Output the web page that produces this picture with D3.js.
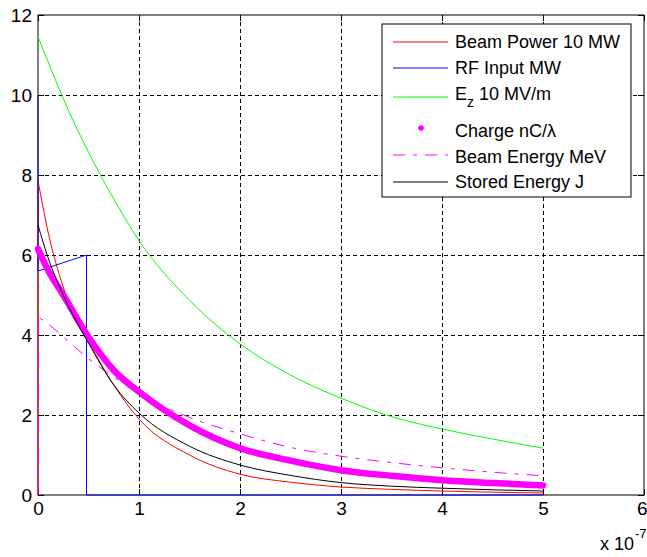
<!DOCTYPE html>
<html>
<head>
<meta charset="utf-8">
<script src="https://cdn.jsdelivr.net/npm/d3@7"></script>
<style>
  body { margin: 0; background: #fff; }
  svg { display: block; font-family: Arial, "Liberation Sans", sans-serif; }
</style>
</head>
<body>
<div id="chart"></div>
<script>
////////////////////////////////////////////////////////////////////
//////////////////////////////  Data  //////////////////////////////
// time axis is in units of 1e-7 s (see the "x 10^-7" label)
const time = [0, 0.1, 0.25, 0.5, 0.75, 1, 1.5, 2, 2.5, 3, 3.5, 4, 4.5, 5];
const beamPower = [7.86, 6.57, 5.2, 3.85, 2.75, 1.9, 1.0, 0.52, 0.32, 0.2, 0.14, 0.1, 0.07, 0.05];
const ezField = [11.46, 10.83, 9.91, 8.57, 7.4, 6.36, 4.87, 3.78, 3.0, 2.42, 1.96, 1.65, 1.4, 1.17];
const charge = [6.15, 5.62, 5.0, 3.95, 3.12, 2.58, 1.74, 1.17, 0.86, 0.62, 0.48, 0.37, 0.3, 0.24];
const beamEnergy = [4.45, 4.28, 3.95, 3.41, 2.95, 2.54, 1.94, 1.53, 1.19, 0.97, 0.81, 0.68, 0.57, 0.48];
const storedEnergy = [6.75, 5.93, 5.0, 3.8, 2.75, 2.05, 1.22, 0.75, 0.49, 0.31, 0.22, 0.17, 0.13, 0.1];

// RF input is a pulse, drawn point to point
const rfTime = [0, 0, 0.48, 0.48, 5];
const rfInput = [10, 5.6, 6.0, 0, 0];

const xTicks = [0, 1, 2, 3, 4, 5, 6];
const yTicks = [0, 2, 4, 6, 8, 10, 12];

const labels = ["Beam Power 10 MW", "RF Input MW", "E|z| 10 MV/m", "Charge nC/\u03bb", "Beam Energy MeV", "Stored Energy J"];

////////////////////////////////////////////////////////////////////
//////////////////////////////  Init  //////////////////////////////
const width = 647;
const height = 557;
const margin = { top: 15, right: 3, bottom: 62, left: 38 };
const plotW = width - margin.left - margin.right;
const plotH = height - margin.top - margin.bottom;

const svg = d3.select("#chart").append("svg")
  .attr("width", width)
  .attr("height", height);

const xScale = d3.scaleLinear().domain([0, 6]).range([margin.left, width - margin.right]);
const yScale = d3.scaleLinear().domain([0, 12]).range([height - margin.bottom, margin.top]);

// grid (dashed)
svg.append("g")
  .attr("transform", `translate(0,${height - margin.bottom})`)
  .call(d3.axisBottom(xScale).tickValues(xTicks.slice(1, -1)).tickSize(-plotH).tickFormat(""))
  .call((g) => g.select(".domain").remove());

svg.append("g")
  .attr("transform", `translate(${margin.left},0)`)
  .call(d3.axisLeft(yScale).tickValues(yTicks.slice(1, -1)).tickSize(-plotW).tickFormat(""))
  .call((g) => g.select(".domain").remove());

svg.selectAll("g line")
  .attr("stroke", "#000")
  .attr("stroke-width", 1)
  .attr("stroke-dasharray", "4,3");

// box
svg.append("rect")
  .attr("x", margin.left)
  .attr("y", margin.top)
  .attr("width", plotW)
  .attr("height", plotH)
  .attr("fill", "none")
  .attr("stroke", "#000")
  .attr("stroke-width", 1);

// axes, ticks pointing inwards
const tickLen = 6;
const xAxis = svg.append("g")
  .attr("transform", `translate(0,${yScale(0)})`)
  .call(d3.axisBottom(xScale).tickValues(xTicks).tickSizeInner(-tickLen).tickSizeOuter(0).tickPadding(7).tickFormat(d3.format("d")));

const yAxis = svg.append("g")
  .attr("transform", `translate(${xScale(0)},0)`)
  .call(d3.axisLeft(yScale).tickValues(yTicks).tickSizeInner(-tickLen).tickSizeOuter(0).tickPadding(6).tickFormat(d3.format("d")));

svg.append("g")
  .attr("transform", `translate(0,${yScale(12)})`)
  .call(d3.axisTop(xScale).tickValues(xTicks).tickSizeInner(-tickLen).tickSizeOuter(0).tickFormat(""));

svg.append("g")
  .attr("transform", `translate(${xScale(6)},0)`)
  .call(d3.axisRight(yScale).tickValues(yTicks).tickSizeInner(-tickLen).tickSizeOuter(0).tickFormat(""));

[xAxis, yAxis].forEach((ax) => {
  ax.selectAll("text")
    .attr("font-family", "Arial, 'Liberation Sans', sans-serif")
    .attr("font-size", 19)
    .attr("fill", "#000");
});
// last x label sits at the window edge: keep it inside
xAxis.selectAll(".tick text").filter((d) => d === 6).attr("text-anchor", "end").attr("x", 647 - xScale(6));
svg.selectAll(".domain").remove();

// exponent label
const expo = svg.append("text")
  .attr("x", 600)
  .attr("y", 550)
  .attr("font-size", 18)
  .attr("fill", "#000")
  .text("x 10");
expo.append("tspan")
  .attr("dy", -12)
  .attr("dx", 1)
  .attr("font-size", 13)
  .text("-7");

////////////////////////////////////////////////////////////////////
/////////////////////////////  Series  //////////////////////////////
const smooth = d3.line()
  .curve(d3.curveMonotoneX)
  .x((d) => xScale(d[0]))
  .y((d) => yScale(d[1]));

const straight = d3.line()
  .x((d) => xScale(d[0]))
  .y((d) => yScale(d[1]));

const series = [
  { values: beamPower, color: "#ff0000", width: 1, dash: null, rise: true },
  { rf: true, color: "#0000ff", width: 1, dash: null },
  { values: ezField, color: "#00ff00", width: 1, dash: null },
  { values: charge, color: "#ff00ff", width: 6.5, dash: null, dot: true },
  { values: beamEnergy, color: "#ff00ff", width: 1, dash: "12,8,4,8", rise: true },
  { values: storedEnergy, color: "#000000", width: 1, dash: null }
];

series.forEach((s) => {
  let d;
  if (s.rf) {
    d = straight(d3.zip(rfTime, rfInput));
  } else {
    const pts = d3.zip(time, s.values);
    d = smooth(pts);
    if (s.rise) d = straight([[time[0], 0], pts[0]]) + d.replace(/^M/, "L");
  }
  svg.append("path")
    .attr("d", d)
    .attr("fill", "none")
    .attr("stroke", s.color)
    .attr("stroke-width", s.width)
    .attr("stroke-linecap", s.dot ? "round" : "butt")
    .attr("stroke-linejoin", "round")
    .attr("stroke-dasharray", s.dash);
});

////////////////////////////////////////////////////////////////////
/////////////////////////////  Legend  //////////////////////////////
const legend = svg.append("g").attr("transform", "translate(382,24)");

legend.append("rect")
  .attr("width", 249)
  .attr("height", 173)
  .attr("fill", "#fff")
  .attr("stroke", "#000")
  .attr("stroke-width", 1);

// line y inside the box, and text baseline offset from it
const rowY = [18, 44, 73, 104, 131, 158];
const textDy = [6, 6, 3, 9, 8, 6];

series.forEach((s, i) => {
  const ly = rowY[i];
  if (s.dot) {
    legend.append("circle")
      .attr("cx", 39)
      .attr("cy", ly)
      .attr("r", 2.8)
      .attr("fill", s.color);
  } else {
    legend.append("line")
      .attr("x1", 11)
      .attr("x2", 66)
      .attr("y1", ly)
      .attr("y2", ly)
      .attr("stroke", s.color)
      .attr("stroke-width", s.width)
      .attr("stroke-dasharray", s.dash);
  }
  const t = legend.append("text")
    .attr("x", 73)
    .attr("y", ly + textDy[i])
    .attr("font-size", 18)
    .attr("fill", "#000");
  const parts = labels[i].split("|");
  if (parts.length === 3) {
    t.append("tspan").text(parts[0]);
    t.append("tspan").attr("dy", 7).attr("font-size", 14).text(parts[1]);
    t.append("tspan").attr("dy", -7).text(parts[2]);
  } else {
    t.text(labels[i]);
  }
});
</script>
</body>
</html>
